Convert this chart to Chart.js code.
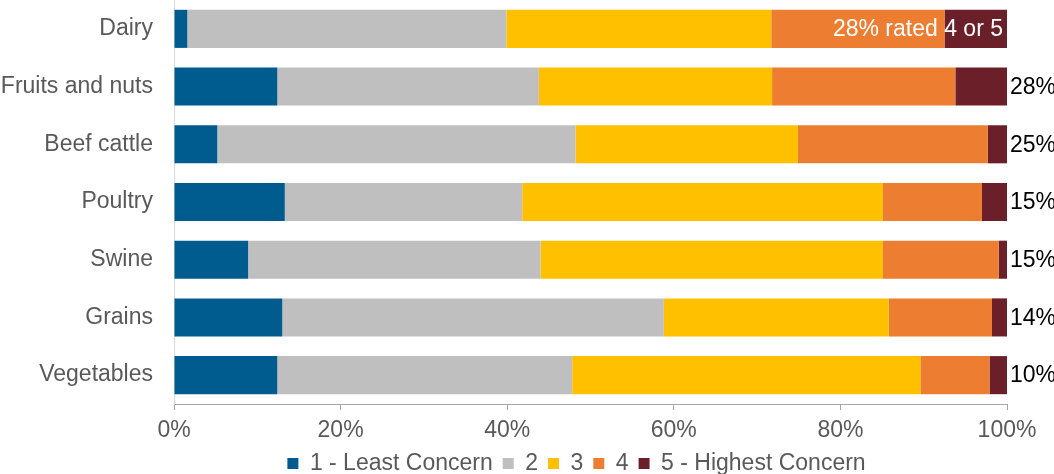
<!DOCTYPE html>
<html>
<head>
<meta charset="utf-8">
<script src="https://cdn.jsdelivr.net/npm/chart.js@4.4.1/dist/chart.umd.min.js"></script>
<style>
    html, body { margin: 0; padding: 0; background: #ffffff; }
    #wrap { width: 1054px; height: 474px; position: relative; }
</style>
</head>
<body>
<div id="wrap"><canvas id="myChart"></canvas></div>
<script>
// categories and concern levels (share of respondents, %)
const categories = ['Dairy', 'Fruits and nuts', 'Beef cattle', 'Poultry', 'Swine', 'Grains', 'Vegetables'];
const level1 = [1.6, 12.4, 5.2, 13.3, 8.9, 13.0, 12.4];
const level2 = [38.3, 31.4, 43.0, 28.5, 35.1, 45.8, 35.4];
const level3 = [31.8, 28.0, 26.7, 43.3, 41.1, 27.0, 41.8];
const level4 = [20.8, 22.0, 22.8, 11.9, 13.9, 12.4, 8.3];
const level5 = [7.5, 6.2, 2.3, 3.0, 1.0, 1.8, 2.1];
const ratedLabels = ['28%', '28%', '25%', '15%', '15%', '14%', '10%'];
const xTicks = [0, 20, 40, 60, 80, 100];

const FONT = "'Liberation Sans', Arial, sans-serif";
Chart.defaults.font.family = FONT;
Chart.defaults.font.size = 23;
Chart.defaults.color = '#595959';

// text at the end of each bar: share rated 4 or 5
const ratedPlugin = {
    id: 'rated',
    afterLayout(chart) {
        // legend sits a bit left of the plot centre in the original
        chart.legend.left -= 14;
        chart.legend.right -= 14;
    },
    afterDatasetsDraw(chart) {
        const ctx = chart.ctx;
        const x = chart.scales.x;
        const y = chart.scales.y;
        ctx.save();
        ctx.font = '23px ' + FONT;
        ctx.textBaseline = 'middle';
        for (let i = 0; i < categories.length; i++) {
            const yy = y.getPixelForValue(i);
            if (i === 0) {
                ctx.fillStyle = '#ffffff';
                ctx.textAlign = 'right';
                ctx.fillText(ratedLabels[i] + ' rated 4 or 5', x.getPixelForValue(100) - 4, yy + 1);
            } else {
                ctx.fillStyle = '#000000';
                ctx.textAlign = 'left';
                ctx.fillText(ratedLabels[i], x.getPixelForValue(100) + 3, yy + 1);
            }
        }
        ctx.restore();
    }
};

function ds(label, data, color) {
    return {
        label: label,
        data: data,
        backgroundColor: color,
        borderWidth: 0,
        barPercentage: 0.66,
        categoryPercentage: 1.0
    };
}

const chart_config = {
    type: 'bar',
    data: {
        labels: categories,
        datasets: [
            ds('1 - Least Concern', level1, '#005B8F'),
            ds('2', level2, '#BFBFBF'),
            ds('3', level3, '#FFC000'),
            ds('4', level4, '#ED7D31'),
            ds('5 - Highest Concern', level5, '#6B2029')
        ]
    },
    options: {
        indexAxis: 'y',
        responsive: true,
        maintainAspectRatio: false,
        animation: false,
        devicePixelRatio: 1,
        layout: { padding: { top: 0, right: 47, left: 0, bottom: 0 } },
        scales: {
            x: {
                stacked: true,
                min: 0,
                max: 100,
                afterBuildTicks: (scale) => { scale.ticks = xTicks.map(v => ({ value: v })); },
                afterFit: (scale) => { scale.height = 38; },
                ticks: { callback: (v) => v + '%', padding: 9, color: '#595959', maxRotation: 0, font: { lineHeight: 1.0 } },
                grid: { drawOnChartArea: false, drawTicks: true, tickLength: 6, color: '#a6a6a6' },
                border: { display: true, color: '#a6a6a6', width: 1 }
            },
            y: {
                stacked: true,
                afterFit: (scale) => {
                    scale.width = 174;
                    scale.paddingTop = 0;
                    scale.paddingBottom = 0;
                },
                ticks: { padding: 21, color: '#595959' },
                grid: { display: false, drawTicks: false },
                border: { display: true, color: '#d9d9d9', width: 1 }
            }
        },
        plugins: {
            legend: {
                position: 'bottom',
                fullSize: false,
                maxHeight: 32,
                labels: { boxWidth: 11, boxHeight: 11, padding: 10, color: '#595959', font: { size: 23 } }
            },
            tooltip: { enabled: false }
        }
    },
    plugins: [ratedPlugin]
};

const myChart = new Chart(document.getElementById('myChart'), chart_config);
</script>
</body>
</html>
